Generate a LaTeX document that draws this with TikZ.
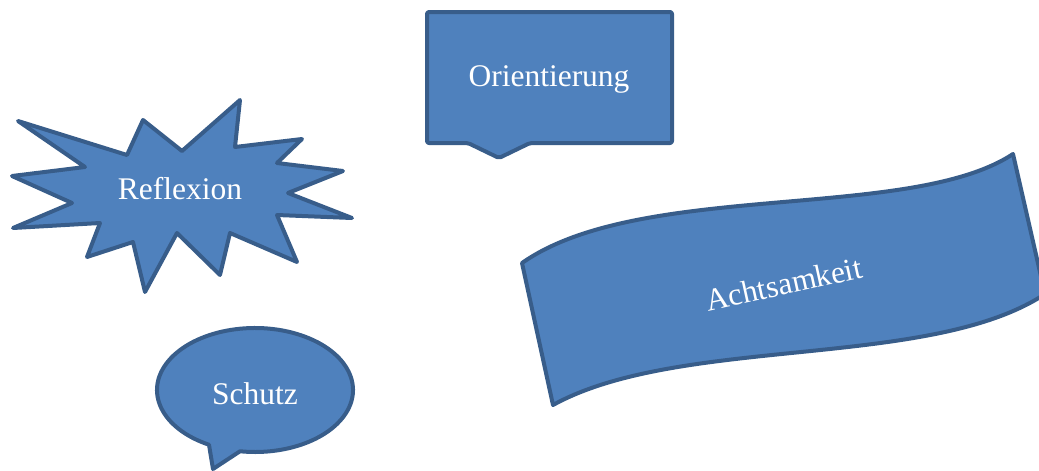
\documentclass[tikz,border=0pt]{standalone}
\usepackage{fontspec}
\setmainfont{Liberation Serif}
\usepackage{tikz}

\definecolor{shapefill}{HTML}{4F81BD}
\definecolor{shapeline}{HTML}{385D8A}

\begin{document}
\begin{tikzpicture}[
  x=1pt, y=-1pt,
  shapebox/.style={fill=shapefill,draw=shapeline,line width=4pt,line join=round},
  lbl/.style={text=white,font=\fontsize{31.5}{36}\selectfont,inner sep=0pt}
]
\useasboundingbox (0,0) rectangle (1039,471);

% starburst
\draw[shapebox] (18,121) -- (127,155) -- (143,120) -- (182,151) -- (240,100)
  -- (235,147) -- (302,139) -- (277,163) -- (343,171) -- (288,193)
  -- (352,218) -- (277,215) -- (297,262) -- (230,233) -- (220,275)
  -- (177,233) -- (145,292) -- (133,242) -- (87,257) -- (100,223)
  -- (13,228) -- (72,203) -- (12,176) -- (85,167) -- cycle;
\node[lbl] (reflexion) at (180,189) {Reflexion};

% rectangle callout
\draw[shapebox,rounded corners=2pt] (427,12) -- (672,12) -- (672,143) -- (530,143)
  -- (499,158) -- (468,143) -- (427,143) -- cycle;
\node[lbl] (orient) at (549,79) {Orientierung};

% oval callout
\draw[shapebox] (213,469) -- ({255+98*cos(118)},{390+62*sin(118)})
  arc[start angle=118,end angle=458.8,x radius=98,y radius=62] -- cycle;
\node[lbl] (schutz) at (255,394) {Schutz};

% wave
\draw[shapebox] (522,263) .. controls (640,180) and (910,222) .. (1013,154)
  -- (1045,294) .. controls (930,370) and (680,335) .. (553,405) -- cycle;
\node[lbl,rotate=12.5] (achtsam) at (784,284) {Achtsamkeit};
\end{tikzpicture}
\end{document}
